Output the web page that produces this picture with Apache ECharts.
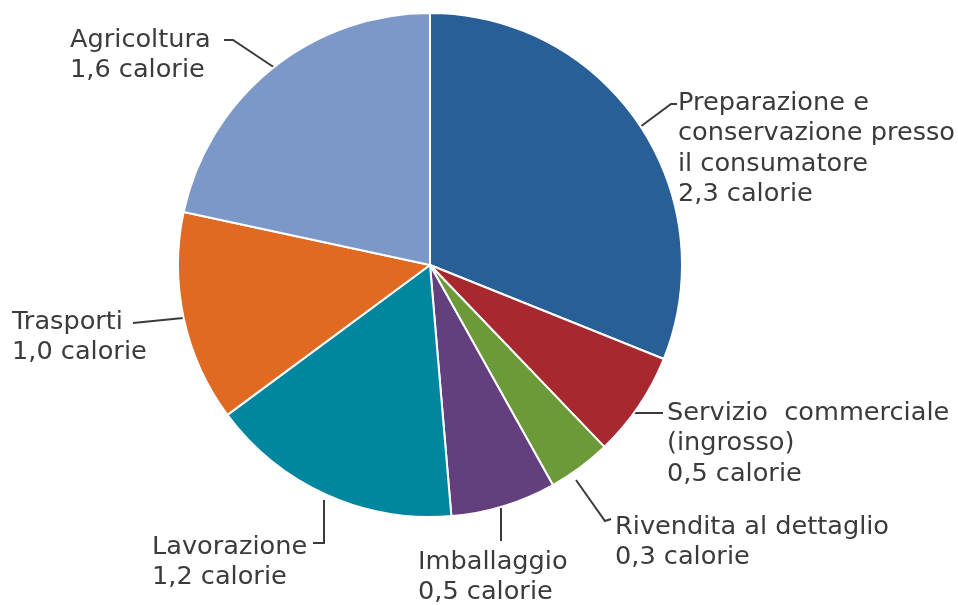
<!DOCTYPE html>
<html>
<head>
<meta charset="utf-8">
<style>
  html, body { margin: 0; padding: 0; background: #fff; }
  #chart { width: 958px; height: 605px; }
</style>
<script src="https://cdn.jsdelivr.net/npm/echarts@6/dist/echarts.min.js"></script>
</head>
<body>
<div id="chart"></div>
<script>
// dati: calorie di energia spese per ogni caloria di cibo
var categorie = [
  'Preparazione e\nconservazione presso\nil consumatore',
  'Servizio  commerciale\n(ingrosso)',
  'Rivendita al dettaglio',
  'Imballaggio',
  'Lavorazione',
  'Trasporti',
  'Agricoltura'
];
var calorie = [2.3, 0.5, 0.3, 0.5, 1.2, 1.0, 1.6];
var colori = ['#275f96', '#a7282e', '#6c9a39', '#633f7e', '#00879f', '#e06a22', '#7b98c8'];

// posizione etichette (x, y in alto a sinistra) e linee guida
var posEtichette = [
  { x: 678, y: 88,  linea: [[640, 127], [671, 104], [677, 104]] },
  { x: 667, y: 398, linea: [[632, 413], [663, 413]] },
  { x: 615, y: 512, linea: [[576, 480], [605, 521], [611, 519]] },
  { x: 418, y: 547, linea: [[501, 508], [501, 541]] },
  { x: 152, y: 532, linea: [[324, 500], [324, 543], [313, 543]] },
  { x: 12,  y: 307, linea: [[183, 318], [133, 323]] },
  { x: 70,  y: 25,  linea: [[275, 68], [233, 40], [224, 40]] }
];

var dati = [];
for (var i = 0; i < categorie.length; i++) {
  dati.push({
    name: categorie[i],
    value: calorie[i],
    itemStyle: { color: colori[i] }
  });
}

var chart = echarts.init(document.getElementById('chart'), null, { renderer: 'canvas' });
var option = {
  animation: false,
  series: [{
    type: 'pie',
    center: [430, 265],
    radius: 252,
    startAngle: 90,
    clockwise: true,
    avoidLabelOverlap: false,
    data: dati,
    itemStyle: {
      borderColor: '#ffffff',
      borderWidth: 2
    },
    label: {
      show: true,
      position: 'outside',
      fontFamily: 'DejaVu Sans',
      fontSize: 25.6,
      lineHeight: 30.5,
      color: '#3b3b3b',
      formatter: function (p) {
        return p.name + '\n' + p.value.toFixed(1).replace('.', ',') + ' calorie';
      }
    },
    labelLine: {
      show: true,
      lineStyle: { color: '#3b3b3b', width: 2 }
    },
    labelLayout: function (params) {
      var pos = posEtichette[params.dataIndex];
      return {
        x: pos.x,
        y: pos.y,
        align: 'left',
        verticalAlign: 'top',
        labelLinePoints: pos.linea
      };
    }
  }]
};
chart.setOption(option);
</script>
</body>
</html>
